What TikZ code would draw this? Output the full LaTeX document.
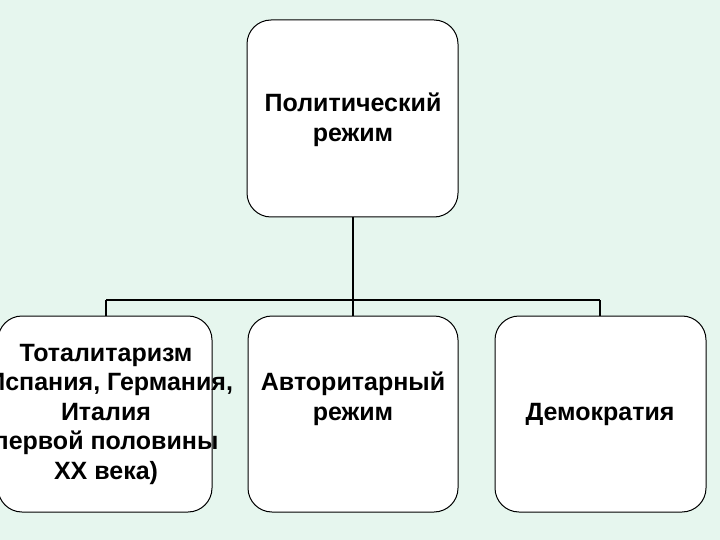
\documentclass[tikz,border=0pt]{standalone}
\usepackage{fontspec}
\setmainfont{Liberation Sans}
\begin{document}
\begin{tikzpicture}[x=1pt,y=-1pt,
  box/.style={draw=black,line width=1pt,fill=white,rounded corners=24pt},
  lbl/.style={align=center,font=\fontsize{25}{29.5}\selectfont\bfseries},
  conn/.style={line width=1.5pt}]
\fill[fill={rgb,255:red,230;green,246;blue,238}] (0,0) rectangle (720,540);
\useasboundingbox (0,0) rectangle (720,540);
\clip (0,0) rectangle (720,540);
\draw[box] (247,20) rectangle (458,217);
\draw[box] (-2,316) rectangle (212,512);
\draw[box] (248,316) rectangle (458,512);
\draw[box] (495,316) rectangle (706,512);
\coordinate (top) at (353,217);
\coordinate (mid) at (353,300);
\coordinate (l) at (106,300);
\coordinate (r) at (600,300);
\coordinate (lb) at (106,316);
\coordinate (mb) at (353,316);
\coordinate (rb) at (600,316);
\draw[line width=2.5pt] (top) -- (mid);
\draw[conn] (l) -- (r);
\draw[conn] (l) -- (lb);
\draw[conn] (mid) -- (mb);
\draw[conn] (r) -- (rb);
\node[lbl] (t) at (353,120) {Политический\\режим};
\node[lbl] (a) at (106,414) {Тоталитаризм\\(Испания, Германия,\\Италия\\первой половины\\XX века)};
\node[lbl] (b) at (353,399) {Авторитарный\\режим};
\node[lbl] (c) at (600,414) {Демократия};
\end{tikzpicture}
\end{document}
